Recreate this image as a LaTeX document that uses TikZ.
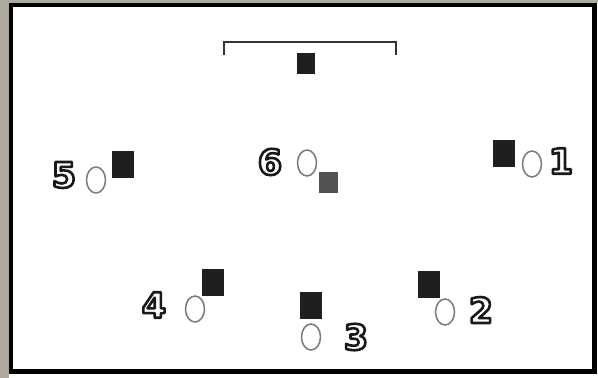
\documentclass[tikz,border=0pt]{standalone}
\usepackage{fontspec}
\newfontfamily\digitfont{DejaVu Sans}[BoldFont={DejaVu Sans Bold}]
\usetikzlibrary{shapes.geometric}
\definecolor{shadowgray}{HTML}{ADA99C}
\definecolor{ringgray}{HTML}{7A7A7A}
\tikzset{
  player/.style={rectangle, fill=black!88, minimum width=22pt, minimum height=27pt, inner sep=0pt},
  coach/.style={rectangle, fill=black!68, minimum width=19pt, minimum height=21pt, inner sep=0pt},
  cone/.style={ellipse, draw=ringgray, line width=1.5pt, fill=white, minimum width=19pt, minimum height=26pt, inner sep=0pt},
  num/.style={inner sep=0pt, text=white, font=\digitfont\bfseries\fontsize{35}{35}\selectfont},
  bracket/.style={draw=black!80, line width=2.2pt}
}
% white digit with a black stroked rim (text render mode 2)
\newcommand{\outlined}[1]{%
  \special{pdf:literal direct 0.1 G 2.6 w 1 j 2 Tr}#1\special{pdf:literal direct 0 Tr}}
\begin{document}
\begin{tikzpicture}[x=1pt,y=-1pt]
  \useasboundingbox (0,0) rectangle (598,378);
  % page with a shadowed black frame
  \fill[white] (0,0) rectangle (598,378);
  \fill[shadowgray] (0,0) rectangle (9,378);
  \fill[shadowgray] (0,0) rectangle (598,3);
  \draw[black, line width=4.5pt] (11,5) rectangle (594.5,371.5);

  % goal bracket with the coach square
  \coordinate (gl) at (224,55);
  \coordinate (gr) at (396,55);
  \draw[bracket] (gl) -- ++(0,-13) -| (gr);
  \node[player, minimum width=18pt, minimum height=21pt] (top) at (306,63) {};

  % 5
  \node[player] (p5) at (123,164) {};
  \node[cone] (c5) at (96,180) {};
  \node[num] (n5) at (64,175) {\outlined{5}};

  % 6
  \node[cone] (c6) at (307,163) {};
  \node[coach] (p6) at (328,182) {};
  \node[num] (n6) at (270,162) {\outlined{6}};

  % 1
  \node[player] (p1) at (504,153) {};
  \node[cone] (c1) at (532,164) {};
  \node[num] (n1) at (561,161) {\outlined{1}};

  % 4
  \node[player] (p4) at (213,282) {};
  \node[cone] (c4) at (195,309) {};
  \node[num] (n4) at (154,305) {\outlined{4}};

  % 3
  \node[player] (p3) at (311,305) {};
  \node[cone] (c3) at (311,337) {};
  \node[num] (n3) at (356,337) {\outlined{3}};

  % 2
  \node[player] (p2) at (429,284) {};
  \node[cone] (c2) at (445,312) {};
  \node[num] (n2) at (481,310) {\outlined{2}};
\end{tikzpicture}
\end{document}
